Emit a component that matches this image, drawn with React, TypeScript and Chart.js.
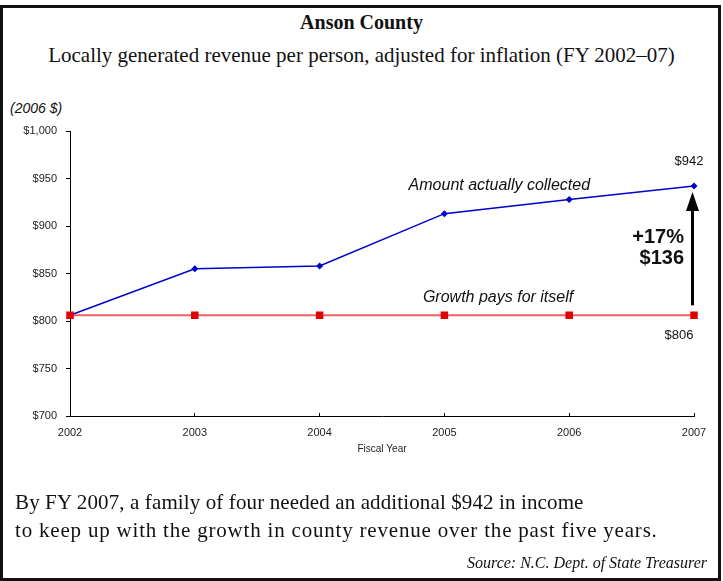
import React, { useEffect, useRef } from "react";
import { Chart, registerables } from "chart.js";

Chart.register(...registerables);

const years = ["2002", "2003", "2004", "2005", "2006", "2007"];
const collected = [806, 855, 858, 913, 928, 942];
const growthPays = [806, 806, 806, 806, 806, 806];
const yTicks = [700, 750, 800, 850, 900, 950, 1000];

const SANS = '"Liberation Sans", Arial, sans-serif';
const SERIF = '"Liberation Serif", "Times New Roman", serif';

const annotationPlugin = {
  id: "annotations",
  afterDatasetsDraw(chart: any) {
    const { ctx, scales } = chart;
    const x = scales.x;
    const y = scales.y;
    const last = years.length - 1;
    const xl = x.getPixelForValue(last);
    const vEnd = collected[last];
    const vStart = growthPays[last];
    const yEnd = y.getPixelForValue(vEnd);
    const yStart = y.getPixelForValue(vStart);
    const diff = vEnd - vStart;
    const pct = Math.round((diff / vStart) * 100);

    ctx.save();
    ctx.fillStyle = "#111";
    ctx.textAlign = "center";
    ctx.textBaseline = "middle";
    ctx.font = `13px ${SANS}`;
    ctx.fillText("$" + vEnd, xl - 5, yEnd - 25);
    ctx.fillText("$" + vStart, xl - 15, yStart + 20);

    ctx.font = `italic 16px ${SANS}`;
    ctx.fillText("Amount actually collected", x.getPixelForValue(3.44), y.getPixelForValue(943));
    ctx.fillText("Growth pays for itself", x.getPixelForValue(3.43), y.getPixelForValue(825));

    ctx.textAlign = "right";
    ctx.font = `bold 20px ${SANS}`;
    ctx.fillText("+" + pct + "%", xl - 10, y.getPixelForValue(888));
    ctx.fillText("$" + diff, xl - 10, y.getPixelForValue(866));

    // arrow
    const ax = xl - 1.5;
    const tip = yEnd + 6;
    const base = tip + 19;
    ctx.strokeStyle = "#000";
    ctx.fillStyle = "#000";
    ctx.lineWidth = 3;
    ctx.beginPath();
    ctx.moveTo(ax, yStart - 10);
    ctx.lineTo(ax, base);
    ctx.stroke();
    ctx.beginPath();
    ctx.moveTo(ax, tip);
    ctx.lineTo(ax - 6.5, base);
    ctx.lineTo(ax + 6.5, base);
    ctx.closePath();
    ctx.fill();
    ctx.restore();
  },
};

function ChartCanvas() {
  const ref = useRef<HTMLCanvasElement | null>(null);
  useEffect(() => {
    if (!ref.current) return;
    const chart = new Chart(ref.current, {
      type: "line",
      data: {
        labels: years,
        datasets: [
          {
            label: "Growth pays for itself",
            data: growthPays,
            borderColor: "rgba(235, 70, 70, 0.85)",
            borderWidth: 2,
            pointStyle: "rect",
            pointRadius: 5.3,
            pointBackgroundColor: "#e00000",
            pointBorderColor: "#e00000",
            pointBorderWidth: 0,
            tension: 0,
          },
          {
            label: "Amount actually collected",
            data: collected,
            borderColor: "#0000cc",
            borderWidth: 1.5,
            pointStyle: "rectRot",
            pointRadius: 3.5,
            pointBackgroundColor: "#0000cc",
            pointBorderColor: "#0000cc",
            pointBorderWidth: 0,
            tension: 0,
          },
        ],
      },
      options: {
        responsive: false,
        animation: false,
        events: [],
        layout: { padding: { left: 0, top: 131, right: 29, bottom: 126 } },
        plugins: {
          legend: { display: false },
          tooltip: { enabled: false },
          title: { display: false },
        },
        scales: {
          x: {
            type: "category",
            offset: false,
            grid: { drawOnChartArea: false, drawTicks: true, tickLength: -3, color: "#000" },
            border: { display: true, color: "#000", width: 1 },
            ticks: {
              color: "#222",
              font: { family: SANS, size: 11 },
              padding: 13,
              maxRotation: 0,
              autoSkip: false,
            },
            title: {
              display: true,
              text: "Fiscal Year",
              color: "#222",
              font: { family: SANS, size: 10 },
              padding: { top: 0, bottom: 0 },
            },
            afterFit: (s: any) => {
              s.height = 39;
            },
          },
          y: {
            min: 700,
            max: 1000,
            grid: { drawOnChartArea: false, drawTicks: true, tickLength: 4, color: "#000" },
            border: { display: true, color: "#000", width: 1 },
            afterBuildTicks: (s: any) => {
              s.ticks = yTicks.map((v) => ({ value: v }));
            },
            ticks: {
              color: "#222",
              font: { family: SANS, size: 11 },
              padding: 9,
              callback: (v: any) => "$" + Number(v).toLocaleString("en-US"),
            },
            afterFit: (s: any) => {
              s.width = 70;
            },
          },
        },
      },
      plugins: [annotationPlugin],
    });
    return () => chart.destroy();
  }, []);
  return (
    <canvas
      ref={ref}
      width={723}
      height={581}
      style={{ position: "absolute", left: 0, top: 0, width: 723, height: 581 }}
    />
  );
}

export default function App() {
  const abs = (o: any): any => ({ position: "absolute", margin: 0, whiteSpace: "nowrap", color: "#111", ...o });
  return (
    <div style={{ position: "fixed", left: 0, top: 0, width: 723, height: 581, background: "#fff", overflow: "hidden" }}>
      <div
        style={{
          position: "absolute",
          left: 0,
          top: 5,
          width: 721,
          height: 576,
          boxSizing: "border-box",
          border: "3px solid #111",
        }}
      />
      <div style={abs({ left: 0, top: 12, width: 723, textAlign: "center", fontFamily: SERIF, fontWeight: "bold", fontSize: 20, lineHeight: "20px" })}>
        Anson County
      </div>
      <div style={abs({ left: 0, top: 45, width: 723, textAlign: "center", fontFamily: SERIF, fontSize: 21, lineHeight: "21px" })}>
        Locally generated revenue per person, adjusted for inflation (FY 2002–07)
      </div>
      <div style={abs({ left: 10, top: 101, fontFamily: SANS, fontStyle: "italic", fontSize: 14, lineHeight: "14px" })}>
        (2006 $)
      </div>
      <ChartCanvas />
      <div style={abs({ left: 15, top: 492, fontFamily: SERIF, fontSize: 21, lineHeight: "21px", letterSpacing: "0.12px" })}>
        By FY 2007, a family of four needed an additional $942 in income
      </div>
      <div style={abs({ left: 15, top: 520, fontFamily: SERIF, fontSize: 21, lineHeight: "21px", letterSpacing: "0.8px" })}>
        to keep up with the growth in county revenue over the past five years.
      </div>
      <div style={abs({ right: 16, top: 555, fontFamily: SERIF, fontStyle: "italic", fontSize: 16, lineHeight: "16px" })}>
        Source: N.C. Dept. of State Treasurer
      </div>
    </div>
  );
}
